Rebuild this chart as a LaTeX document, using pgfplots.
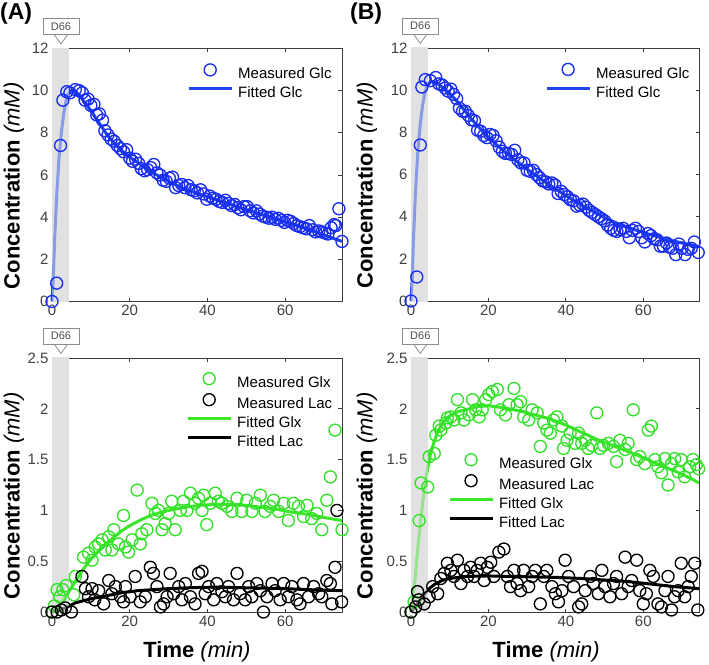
\documentclass[border=0pt]{standalone}
\usepackage{fontspec}
\setmainfont{Liberation Sans}
\usepackage{pgfplots}
\pgfplotsset{compat=1.18}
\definecolor{mblue}{RGB}{25,45,240}
\definecolor{lblue}{RGB}{30,70,235}
\definecolor{mgreen}{RGB}{50,225,40}
\definecolor{lgreen}{RGB}{60,230,40}
\definecolor{axcol}{RGB}{60,60,60}
\definecolor{tickcol}{RGB}{64,64,64}
\definecolor{shade}{RGB}{225,225,225}
\definecolor{dbox}{RGB}{140,140,140}
\definecolor{dtext}{RGB}{80,80,80}
\pgfplotsset{
  panel/.style={scale only axis, height=253pt, xmin=0,
    xtick={0,20,40,60}, tick align=inside, major tick length=3.5pt,
    axis line style={draw=axcol, line width=0.9pt},
    every tick/.style={draw=axcol, line width=0.8pt},
    ticklabel style={font=\fontsize{15}{17}\selectfont, text=tickcol},
    /pgf/number format/assume math mode=true,
    clip=false,
    legend cell align=left,
    legend style={draw=none, fill=none, font=\fontsize{15}{18}\selectfont,
      anchor=north west, inner sep=0pt, row sep=1pt, column sep=3pt,
      nodes={text height=11pt, text depth=3pt, inner sep=2pt, text=black}},
    ylabel style={font=\fontsize{22}{24}\selectfont, anchor=center, rotate=0},
    xlabel style={font=\fontsize{22}{24}\selectfont, anchor=center},
  },
  mleg/.style={legend image code/.code={\draw[##1, mark repeat=2, mark phase=2] plot coordinates {(0pt,5pt)(21.5pt,5pt)(43pt,5pt)};}},
  lleg/.style={legend image code/.code={\draw[##1] (0pt,5pt) -- (43pt,5pt);}},
  meas/.style={only marks, mark=o, mark size=6pt, line width=1.35pt, mleg},
  fit/.style={no marks, line width=3pt, lleg},
}
\newcommand{\ylab}{{\bfseries Concentration} {\itshape (mM)}}
\newcommand{\xlab}{{\bfseries Time} {\itshape (min)}}
\begin{document}
\begin{tikzpicture}
\path[use as bounding box] (0,0) rectangle (709pt,-664pt);
\node[anchor=base west, inner sep=0pt, font=\fontsize{23}{25}\selectfont\bfseries] at (0pt,-19pt) {(A)};
\node[anchor=base west, inner sep=0pt, font=\fontsize{23}{25}\selectfont\bfseries] at (350pt,-19pt) {(B)};

% ---------------- A top ----------------
\begin{axis}[panel, width=290pt, xmax=74.6, ymin=0, ymax=12, ytick={0,2,4,6,8,10,12},
  at={(52pt,-301.5pt)}, anchor=south west,
  ylabel={\ylab}, ylabel style={at={(axis description cs:-0.131,0.457)}},
  legend style={at={(0.4655,0.94)}}]
\addplot[fill=shade, draw=none, forget plot] coordinates {(-0.12,-0.04)(4.3,-0.04)(4.3,12.04)(-0.12,12.04)};
\addplot[meas, color=mblue] table {
0 0
1.2 0.87
2.2 7.4
2.8 9.55
3.8 9.95
4.6 9.9
6.0 10.05
7.0 10.0
7.8 9.9
8.5 9.55
9.3 9.6
10.0 9.3
10.8 9.35
11.5 8.85
12.2 8.9
13.0 8.6
13.6 8.1
14.4 7.9
15.2 7.7
16.0 7.6
16.8 7.4
17.6 7.25
18.4 7.1
19.2 7.2
20.0 6.8
20.7 6.65
21.5 6.75
22.3 6.55
23.0 6.3
23.8 6.2
24.6 6.25
25.4 6.35
26.2 6.5
27.0 6.1
27.8 6.0
28.6 5.75
29.4 5.7
30.2 5.85
31.0 5.9
31.8 5.4
32.6 5.5
33.4 5.55
34.2 5.4
35.0 5.5
35.8 5.3
36.6 5.25
37.4 5.15
38.2 5.3
39.0 5.1
39.8 4.85
40.6 5.0
41.4 4.9
42.2 4.85
43.0 4.75
43.8 4.7
44.6 4.8
45.4 4.65
46.2 4.55
47.0 4.6
47.8 4.45
48.6 4.35
49.4 4.5
50.2 4.5
51.0 4.3
51.8 4.2
52.6 4.3
53.4 4.15
54.2 4.05
55.0 4.0
55.8 3.95
56.6 4.0
57.4 3.9
58.2 3.95
59.0 3.85
59.8 3.75
60.6 3.85
61.4 3.8
62.2 3.7
63.0 3.6
63.8 3.55
64.6 3.5
65.4 3.45
66.2 3.6
67.0 3.4
67.8 3.3
68.6 3.35
69.4 3.3
70.2 3.25
71.0 3.2
71.8 3.5
72.6 3.65
73.0 3.6
73.8 4.4
74.6 2.85
};
\addlegendentry{Measured Glc}
\addplot[fit, color=lblue] table {
0 0
0.3 1.0
0.7 3.0
1.2 5.0
1.8 6.8
2.4 8.0
3.0 8.9
3.6 9.5
4.2 9.85
5.0 10.0
5.8 10.0
7 9.8
8 9.55
9 9.3
10 9.05
12 8.5
14 7.95
16 7.5
18 7.15
20 6.85
22 6.6
25 6.2
28 5.9
31 5.6
34 5.35
37 5.15
40 4.97
43 4.78
46 4.6
50 4.35
54 4.12
58 3.9
62 3.66
66 3.43
70 3.15
74.6 2.85
};
\addlegendentry{Fitted Glc}
\addplot[fill=shade, fill opacity=0.55, draw=none, forget plot] coordinates {(-0.12,-0.04)(4.3,-0.04)(4.3,12.04)(-0.12,12.04)};
\node[draw=dbox, fill=white, line width=0.8pt, minimum width=36pt, minimum height=16pt, inner sep=0pt, font=\fontsize{11}{12}\selectfont, text=dtext] (dA) at ([yshift=22pt]axis cs:2.3,12) {D66};
\draw[dbox, line width=0.8pt] ([xshift=-6.5pt]dA.south) -- ([yshift=-9pt]dA.south) -- ([xshift=6.5pt]dA.south);
\end{axis}

% ---------------- B top ----------------
\begin{axis}[panel, width=288pt, xmax=74.4, ymin=0, ymax=12, ytick={0,2,4,6,8,10,12},
  at={(411pt,-301pt)}, anchor=south west,
  ylabel={\ylab}, ylabel style={at={(axis description cs:-0.153,0.457)}},
  legend style={at={(0.465,0.94)}}]
\addplot[fill=shade, draw=none, forget plot] coordinates {(-0.12,-0.04)(4.3,-0.04)(4.3,12.04)(-0.12,12.04)};
\addplot[meas, color=mblue] table {
0 0
1.5 1.14
2.4 7.4
2.8 10.15
3.7 10.5
5.0 10.45
6.4 10.6
7.2 10.3
8.0 10.25
8.8 10.1
9.6 9.95
10.3 10.05
11.0 9.8
11.8 9.6
12.5 9.15
13.3 9.0
14.0 9.0
14.8 8.8
15.6 8.6
16.4 8.55
17.2 8.1
18.0 8.05
18.8 7.85
19.6 7.75
20.4 7.9
21.2 7.85
22.0 7.6
22.8 7.3
23.6 7.1
24.4 7.0
25.2 7.0
26.0 6.95
26.8 7.15
27.6 6.7
28.4 6.55
29.2 6.55
30.0 6.2
30.8 6.15
31.6 6.2
32.4 6.0
33.2 5.85
34.0 5.7
34.8 5.65
35.6 5.55
36.4 5.6
37.2 5.5
38.0 5.1
38.8 5.2
39.6 5.05
40.4 4.95
41.2 4.8
42.0 4.75
42.8 4.5
43.6 4.55
44.4 4.6
45.2 4.45
46.0 4.3
46.8 4.2
47.6 4.1
48.4 4.0
49.2 3.9
50.0 3.8
50.8 3.6
51.6 3.45
52.4 3.35
53.2 3.3
54.0 3.4
54.8 3.45
55.6 3.3
56.4 3.0
57.2 3.35
58.0 3.45
58.8 3.3
59.6 3.0
60.4 2.8
61.2 3.2
62.0 3.1
62.8 2.95
63.6 2.9
64.4 2.6
65.2 2.6
66.0 2.75
66.8 2.55
67.6 2.5
68.4 2.2
69.2 2.7
70.0 2.5
70.8 2.2
71.6 2.45
72.4 2.5
73.2 2.8
74.2 2.3
};
\addlegendentry{Measured Glc}
\addplot[fit, color=lblue] table {
0 0
0.3 1.0
0.7 3.2
1.2 5.3
1.8 7.2
2.4 8.4
3.0 9.3
3.6 9.9
4.2 10.2
5.0 10.4
6.0 10.4
7 10.3
8 10.15
10 9.85
12 9.45
14 9.0
16 8.55
18 8.15
20 7.75
25 6.95
30 6.25
35 5.6
40 5.0
45 4.45
50 3.95
55 3.55
60 3.25
65 2.98
70 2.75
74.4 2.58
};
\addlegendentry{Fitted Glc}
\addplot[fill=shade, fill opacity=0.55, draw=none, forget plot] coordinates {(-0.12,-0.04)(4.3,-0.04)(4.3,12.04)(-0.12,12.04)};
\node[draw=dbox, fill=white, line width=0.8pt, minimum width=36pt, minimum height=16pt, inner sep=0pt, font=\fontsize{11}{12}\selectfont, text=dtext] (dB) at ([yshift=22pt]axis cs:2.4,12) {D66};
\draw[dbox, line width=0.8pt] ([xshift=-6.5pt]dB.south) -- ([yshift=-9pt]dB.south) -- ([xshift=6.5pt]dB.south);
\end{axis}

% ---------------- A bottom ----------------
\begin{axis}[panel, width=290pt, height=254pt, xmax=74.6, ymin=0, ymax=2.5, ytick={0,0.5,1,1.5,2,2.5},
  at={(52pt,-612pt)}, anchor=south west,
  ylabel={\ylab}, ylabel style={at={(axis description cs:-0.131,0.457)}},
  xlabel={\xlab}, xlabel style={at={(axis description cs:0.5,0)}, yshift=-40pt},
  legend style={at={(0.462,0.943)}}]
\addplot[fill=shade, draw=none, forget plot] coordinates {(-0.12,-0.009)(4.3,-0.009)(4.3,2.509)(-0.12,2.509)};
\addplot[meas, color=mgreen] table {
0 0
0.6 0.06
1.3 0.22
2.0 0.15
2.8 0.22
3.6 0.26
5.6 0.17
6.0 0.35
8.1 0.54
9.4 0.58
10.3 0.51
11.1 0.64
12.0 0.67
12.9 0.71
13.7 0.61
14.6 0.74
15.4 0.61
15.9 0.81
17.1 0.67
18.4 0.95
18.9 0.64
19.7 0.59
20.6 0.71
21.9 1.2
22.7 0.67
23.1 0.77
24.4 0.81
25.7 1.07
26.6 0.97
27.4 1.0
28.3 0.81
29.1 0.87
30.0 0.97
30.8 1.09
31.7 0.81
33.0 1.0
33.8 1.09
34.7 1.0
35.6 1.17
36.8 1.07
37.7 1.12
38.6 1.0
39.0 1.15
39.8 0.86
40.7 1.07
42.0 1.17
42.8 1.09
43.7 1.07
45.0 1.04
46.3 0.99
47.6 1.12
48.8 0.99
50.1 1.1
51.4 0.99
52.3 1.07
53.6 1.15
54.8 0.99
56.1 1.04
57.0 1.1
58.3 0.99
59.6 1.07
60.8 0.9
62.1 1.07
63.4 1.04
64.7 0.94
65.6 1.05
66.8 0.92
68.1 0.97
69.4 0.81
70.7 1.1
71.6 1.33
72.8 1.79
74.6 0.81
};
\addlegendentry{Measured Glx}
\addplot[meas, color=black] table {
0 0
1.3 0
2.4 0.02
3.4 0.04
5.0 0
7.7 0.35
8.6 0.23
9.4 0.15
10.3 0.23
11.0 0.12
12.0 0.21
13.3 0.08
14.6 0.31
15.4 0.18
16.3 0.25
17.6 0.15
18.4 0.1
18.9 0.25
20.1 0.15
21.4 0.35
22.7 0.1
24.0 0.15
25.3 0.44
26.1 0.38
27.0 0.25
27.9 0.05
28.7 0.08
29.6 0.15
30.4 0.38
31.3 0.18
32.6 0.25
33.4 0.12
34.3 0.28
35.6 0.15
36.8 0.08
37.7 0.38
38.6 0.4
39.4 0.18
40.3 0.25
41.6 0.12
42.4 0.28
43.7 0.2
44.6 0.15
45.4 0.25
46.7 0.12
47.6 0.38
48.4 0.18
49.7 0.12
50.6 0.25
51.4 0.15
52.7 0.28
53.6 0.21
54.4 0
55.3 0.15
56.6 0.28
57.4 0.21
58.7 0.12
59.6 0.28
60.8 0.15
61.7 0.25
63.0 0.12
63.8 0.08
64.7 0.28
66.0 0.15
67.3 0.25
68.6 0.18
69.4 0.15
70.7 0.31
71.6 0.28
72.0 0.08
72.8 0.44
73.3 1.0
74.5 0.1
};
\addlegendentry{Measured Lac}
\addplot[fit, color=lgreen] table {
0 0
2 0.08
4 0.18
6 0.3
8 0.42
10 0.52
12 0.6
14 0.67
16 0.74
18 0.8
20 0.85
23 0.91
26 0.96
30 1.0
34 1.03
38 1.05
42 1.06
46 1.06
50 1.05
54 1.03
58 1.01
62 0.98
66 0.96
70 0.93
74.6 0.9
};
\addlegendentry{Fitted Glx}
\addplot[fit, color=black] table {
0 0
2 0.02
4 0.05
6 0.09
8 0.11
10 0.13
14 0.16
18 0.19
22 0.21
26 0.22
30 0.23
36 0.24
42 0.245
48 0.24
54 0.235
60 0.23
66 0.22
70 0.215
74.6 0.21
};
\addlegendentry{Fitted Lac}
\addplot[fill=shade, fill opacity=0.55, draw=none, forget plot] coordinates {(-0.12,-0.009)(4.3,-0.009)(4.3,2.509)(-0.12,2.509)};
\node[draw=dbox, fill=white, line width=0.8pt, minimum width=36pt, minimum height=16pt, inner sep=0pt, font=\fontsize{11}{12}\selectfont, text=dtext] (dC) at ([yshift=22pt]axis cs:2.3,2.5) {D66};
\draw[dbox, line width=0.8pt] ([xshift=-6.5pt]dC.south) -- ([yshift=-9pt]dC.south) -- ([xshift=6.5pt]dC.south);
\end{axis}

% ---------------- B bottom ----------------
\begin{axis}[panel, width=288pt, height=254pt, xmax=74.4, ymin=0, ymax=2.5, ytick={0,0.5,1,1.5,2,2.5},
  at={(411pt,-612pt)}, anchor=south west,
  ylabel={\ylab}, ylabel style={at={(axis description cs:-0.153,0.457)}},
  xlabel={\xlab}, xlabel style={at={(axis description cs:0.469,0)}, yshift=-40pt},
  legend style={at={(0.128,0.624)}}]
\addplot[fill=shade, draw=none, forget plot] coordinates {(-0.12,-0.009)(4.3,-0.009)(4.3,2.509)(-0.12,2.509)};
\addplot[meas, color=mgreen] table {
0 0
0.8 0.1
2.1 0.9
2.6 1.27
4.3 1.23
4.7 1.53
6.0 1.56
6.4 1.74
7.3 1.83
7.7 1.79
9.0 1.86
9.4 1.91
10.3 1.92
11.1 1.89
12.0 2.09
12.9 1.96
13.7 1.89
15.0 1.94
15.9 2.09
16.7 1.99
17.6 1.92
18.4 1.99
19.3 2.09
20.1 2.14
21.0 2.17
22.3 2.19
23.1 1.99
24.4 1.94
25.3 2.04
26.6 2.2
27.4 2.04
28.3 2.07
29.1 1.92
30.4 1.89
31.3 1.99
32.6 1.96
33.4 1.63
34.3 1.86
35.1 1.79
36.0 1.76
36.8 1.89
37.7 1.92
39.0 1.83
39.4 1.61
40.3 1.69
41.1 1.76
42.4 1.66
43.3 1.76
44.1 1.66
45.0 1.69
45.8 1.61
46.7 1.64
48.0 1.96
48.8 1.61
49.7 1.64
51.0 1.66
52.3 1.63
53.1 1.48
54.0 1.69
55.3 1.6
56.1 1.66
57.4 1.99
58.3 1.5
59.1 1.53
60.4 1.46
61.3 1.79
62.1 1.83
63.0 1.5
63.8 1.43
64.7 1.37
65.6 1.51
66.4 1.25
67.3 1.46
68.1 1.51
69.0 1.38
69.8 1.5
70.7 1.33
72.0 1.43
72.8 1.5
73.7 1.45
74.3 1.41
};
\addlegendentry{Measured Glx}
\addplot[meas, color=black] table {
0 0
1.2 0.05
1.7 0.2
2.0 0.12
3.4 0.08
4.7 0.15
5.6 0.25
6.9 0.18
7.7 0.33
8.6 0.38
9.4 0.48
10.3 0.41
11.1 0.35
12.0 0.51
12.9 0.28
13.7 0.41
14.6 0.35
15.4 0.44
16.3 0.35
17.1 0.41
18.0 0.48
18.9 0.31
19.7 0.44
20.6 0.49
21.4 0.35
22.7 0.59
24.0 0.62
24.9 0.35
25.7 0.25
26.6 0.41
27.4 0.28
28.3 0.21
29.1 0.41
30.4 0.25
31.3 0.35
32.1 0.41
33.4 0.08
34.3 0.35
35.1 0.41
36.4 0.25
37.3 0.18
38.1 0.1
39.0 0.21
39.8 0.51
40.7 0.35
42.0 0.25
43.3 0.05
44.1 0.08
45.0 0.21
46.3 0.35
47.1 0.28
48.4 0.18
49.3 0.41
50.1 0.25
51.4 0.15
52.3 0.28
53.1 0.35
54.4 0.18
55.3 0.54
56.1 0.25
57.0 0.31
58.3 0.51
59.1 0.21
60.0 0.08
60.8 0.18
61.7 0.41
62.6 0.35
63.8 0.08
64.7 0.05
65.6 0.21
66.4 0.35
67.3 0.02
68.1 0.15
69.0 0.21
69.8 0.48
70.7 0.15
71.6 0.25
72.4 0.35
73.3 0.48
74.1 0.02
};
\addlegendentry{Measured Lac}
\addplot[fit, color=lgreen] table {
0 0
0.5 0.15
1 0.3
1.5 0.52
2 0.72
2.5 0.9
3 1.07
3.5 1.22
4 1.35
4.5 1.45
5 1.55
6 1.68
7 1.78
8 1.85
9 1.9
10 1.93
12 1.97
14 1.99
17 2.02
20 2.03
24 2.01
28 1.98
32 1.94
36 1.9
40 1.84
44 1.77
48 1.7
52 1.64
56 1.58
60 1.52
64 1.45
68 1.39
72 1.32
74.4 1.27
};
\addlegendentry{Fitted Glx}
\addplot[fit, color=black] table {
0 0
1 0.05
2 0.1
3 0.15
4 0.2
5 0.24
6 0.27
8 0.31
10 0.33
14 0.35
20 0.355
26 0.35
32 0.345
38 0.34
44 0.33
50 0.315
56 0.3
62 0.275
68 0.25
74.4 0.23
};
\addlegendentry{Fitted Lac}
\addplot[fill=shade, fill opacity=0.55, draw=none, forget plot] coordinates {(-0.12,-0.009)(4.3,-0.009)(4.3,2.509)(-0.12,2.509)};
\node[draw=dbox, fill=white, line width=0.8pt, minimum width=36pt, minimum height=16pt, inner sep=0pt, font=\fontsize{11}{12}\selectfont, text=dtext] (dD) at ([yshift=22pt]axis cs:2.4,2.5) {D66};
\draw[dbox, line width=0.8pt] ([xshift=-6.5pt]dD.south) -- ([yshift=-9pt]dD.south) -- ([xshift=6.5pt]dD.south);
\end{axis}
\end{tikzpicture}
\end{document}
